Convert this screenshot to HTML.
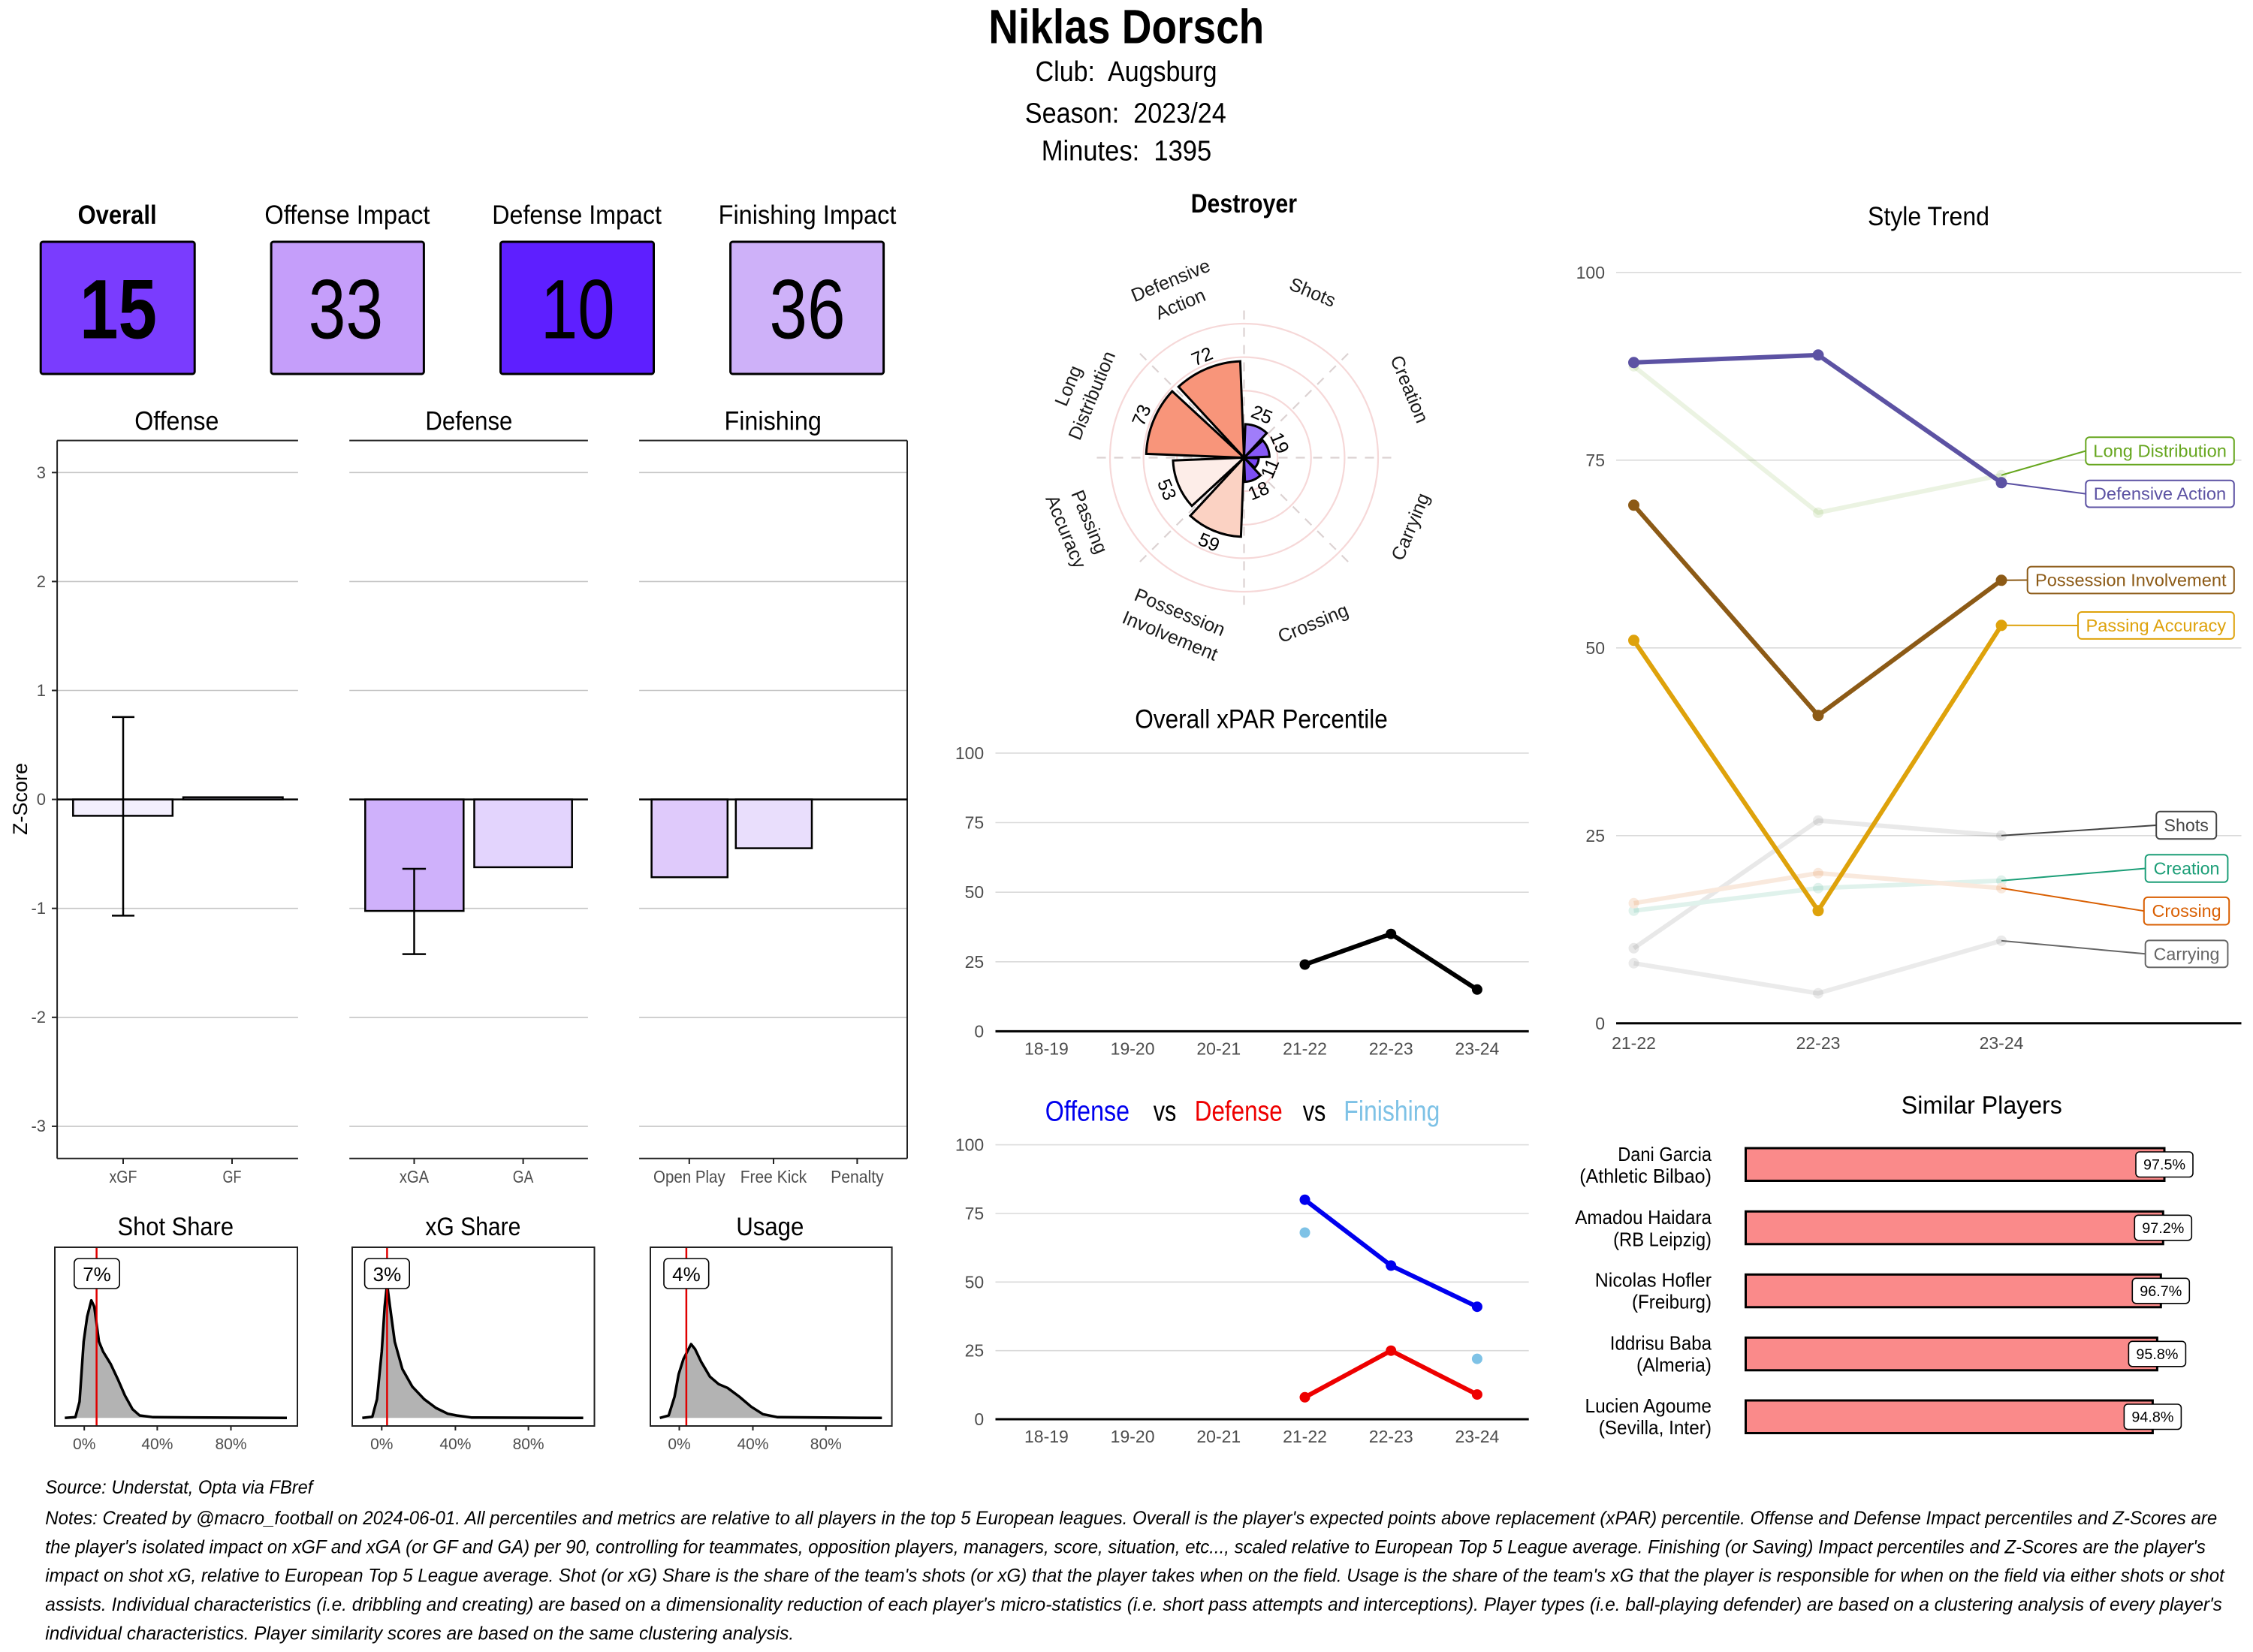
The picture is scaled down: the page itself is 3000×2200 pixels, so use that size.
<!DOCTYPE html>
<html><head><meta charset="utf-8"><style>
html,body{margin:0;padding:0;background:#fff;}
svg{display:block;}
text{font-family:"Liberation Sans",Arial,sans-serif;}
.tk{font-size:23px;fill:#4d4d4d;}
.ct{font-size:25px;fill:#1a1a1a;}
</style></head><body>
<svg width="3000" height="2200" viewBox="0 0 3000 2200" xmlns="http://www.w3.org/2000/svg">
<rect width="3000" height="2200" fill="#fff"/>

<!-- Header -->
<text x="1316.3" y="57.4" font-size="64" font-weight="bold" textLength="367" lengthAdjust="spacingAndGlyphs">Niklas Dorsch</text>
<text x="1378.6" y="108" font-size="38" textLength="242" lengthAdjust="spacingAndGlyphs" style="white-space:pre">Club:  Augsburg</text>
<text x="1364.8" y="163.6" font-size="38" textLength="268" lengthAdjust="spacingAndGlyphs" style="white-space:pre">Season:  2023/24</text>
<text x="1386.7" y="213.5" font-size="38" textLength="226.5" lengthAdjust="spacingAndGlyphs" style="white-space:pre">Minutes:  1395</text>

<!-- Score boxes -->
<text x="103.6" y="298" font-size="35" font-weight="bold" textLength="105" lengthAdjust="spacingAndGlyphs">Overall</text>
<text x="352.4" y="298" font-size="35" textLength="220" lengthAdjust="spacingAndGlyphs">Offense Impact</text>
<text x="655.3" y="298" font-size="35" textLength="225.6" lengthAdjust="spacingAndGlyphs">Defense Impact</text>
<text x="956.6" y="298" font-size="35" textLength="236.8" lengthAdjust="spacingAndGlyphs">Finishing Impact</text>
<rect x="54.2" y="322" width="205" height="176" rx="3" fill="#7a3cfe" stroke="#000" stroke-width="3"/>
<rect x="361.1" y="322" width="203.3" height="176" rx="3" fill="#c59efa" stroke="#000" stroke-width="3"/>
<rect x="666.5" y="322" width="204" height="176" rx="3" fill="#5e1fff" stroke="#000" stroke-width="3"/>
<rect x="972.6" y="322" width="204" height="176" rx="3" fill="#ceb1f9" stroke="#000" stroke-width="3"/>
<text x="106" y="450.7" font-size="112" font-weight="bold" textLength="103" lengthAdjust="spacingAndGlyphs">15</text>
<text x="410.6" y="450.7" font-size="112" textLength="99.6" lengthAdjust="spacingAndGlyphs">33</text>
<text x="719.9" y="450.7" font-size="112" textLength="98.8" lengthAdjust="spacingAndGlyphs">10</text>
<text x="1024.4" y="450.7" font-size="112" textLength="101.2" lengthAdjust="spacingAndGlyphs">36</text>

<!-- Z-score panels -->
<text x="179.2" y="572.6" font-size="35" textLength="112.2" lengthAdjust="spacingAndGlyphs">Offense</text>
<text x="566.4" y="572.6" font-size="35" textLength="116" lengthAdjust="spacingAndGlyphs">Defense</text>
<text x="964.5" y="572.6" font-size="35" textLength="129.4" lengthAdjust="spacingAndGlyphs">Finishing</text>
<g stroke="#c4c4c4" stroke-width="1.6">
<line x1="76.1" x2="396.9" y1="629.3" y2="629.3"/><line x1="76.1" x2="396.9" y1="774.4" y2="774.4"/><line x1="76.1" x2="396.9" y1="919.5" y2="919.5"/><line x1="76.1" x2="396.9" y1="1209.7" y2="1209.7"/><line x1="76.1" x2="396.9" y1="1354.8" y2="1354.8"/><line x1="76.1" x2="396.9" y1="1499.9" y2="1499.9"/>
<line x1="465.2" x2="782.9" y1="629.3" y2="629.3"/><line x1="465.2" x2="782.9" y1="774.4" y2="774.4"/><line x1="465.2" x2="782.9" y1="919.5" y2="919.5"/><line x1="465.2" x2="782.9" y1="1209.7" y2="1209.7"/><line x1="465.2" x2="782.9" y1="1354.8" y2="1354.8"/><line x1="465.2" x2="782.9" y1="1499.9" y2="1499.9"/>
<line x1="851.1" x2="1208" y1="629.3" y2="629.3"/><line x1="851.1" x2="1208" y1="774.4" y2="774.4"/><line x1="851.1" x2="1208" y1="919.5" y2="919.5"/><line x1="851.1" x2="1208" y1="1209.7" y2="1209.7"/><line x1="851.1" x2="1208" y1="1354.8" y2="1354.8"/><line x1="851.1" x2="1208" y1="1499.9" y2="1499.9"/>
</g>
<g stroke="#222" stroke-width="2">
<line x1="76.1" x2="396.9" y1="586.6" y2="586.6"/><line x1="76.1" x2="396.9" y1="1542.8" y2="1542.8"/><line x1="76.1" x2="76.1" y1="586.6" y2="1542.8"/>
<line x1="465.2" x2="782.9" y1="586.6" y2="586.6"/><line x1="465.2" x2="782.9" y1="1542.8" y2="1542.8"/>
<line x1="851.1" x2="1208" y1="586.6" y2="586.6"/><line x1="851.1" x2="1208" y1="1542.8" y2="1542.8"/><line x1="1208" x2="1208" y1="586.6" y2="1542.8"/>
<line x1="69" x2="76" y1="629.3" y2="629.3"/><line x1="69" x2="76" y1="774.4" y2="774.4"/><line x1="69" x2="76" y1="919.5" y2="919.5"/><line x1="69" x2="76" y1="1064.6" y2="1064.6"/><line x1="69" x2="76" y1="1209.7" y2="1209.7"/><line x1="69" x2="76" y1="1354.8" y2="1354.8"/><line x1="69" x2="76" y1="1499.9" y2="1499.9"/>
<line x1="164" x2="164" y1="1542.8" y2="1550"/><line x1="309" x2="309" y1="1542.8" y2="1550"/><line x1="551.5" x2="551.5" y1="1542.8" y2="1550"/><line x1="696.6" x2="696.6" y1="1542.8" y2="1550"/><line x1="917.8" x2="917.8" y1="1542.8" y2="1550"/><line x1="1030" x2="1030" y1="1542.8" y2="1550"/><line x1="1141.4" x2="1141.4" y1="1542.8" y2="1550"/>
</g>
<g font-size="22" fill="#4d4d4d" text-anchor="end">
<text x="61" y="637">3</text><text x="61" y="782">2</text><text x="61" y="927">1</text><text x="61" y="1072">0</text><text x="61" y="1217">-1</text><text x="61" y="1362">-2</text><text x="61" y="1507">-3</text>
</g>
<text transform="translate(36,1064) rotate(-90)" font-size="27" text-anchor="middle">Z-Score</text>

<g stroke="#000" stroke-width="2.5">
<rect x="97.3" y="1064.6" width="132.5" height="21.8" fill="#f3effd"/>
<rect x="244" y="1061.7" width="132.5" height="2.9" fill="#e6dcfb"/>
<rect x="486.3" y="1064.6" width="131" height="148.5" fill="#cfb1fb"/>
<rect x="631.5" y="1064.6" width="130.2" height="90.3" fill="#e3d4fd"/>
<rect x="867.6" y="1064.6" width="101.2" height="103.6" fill="#dfcafb"/>
<rect x="979.8" y="1064.6" width="101.2" height="65" fill="#e9defc"/>
<line x1="76.1" x2="396.9" y1="1064.6" y2="1064.6"/>
<line x1="465.2" x2="782.9" y1="1064.6" y2="1064.6"/>
<line x1="851.1" x2="1208" y1="1064.6" y2="1064.6"/>
<line x1="164" x2="164" y1="954.9" y2="1219.4"/><line x1="149" x2="179" y1="954.9" y2="954.9"/><line x1="149" x2="179" y1="1219.4" y2="1219.4"/>
<line x1="551.5" x2="551.5" y1="1157" y2="1270.6"/><line x1="535.8" x2="567.1" y1="1157" y2="1157"/><line x1="535.8" x2="567.1" y1="1270.6" y2="1270.6"/>
</g>
<g font-size="23" fill="#4d4d4d">
<text x="145.5" y="1575" textLength="37" lengthAdjust="spacingAndGlyphs">xGF</text>
<text x="296.5" y="1575" textLength="25" lengthAdjust="spacingAndGlyphs">GF</text>
<text x="531.9" y="1575" textLength="39.2" lengthAdjust="spacingAndGlyphs">xGA</text>
<text x="682.8" y="1575" textLength="27.5" lengthAdjust="spacingAndGlyphs">GA</text>
<text x="870" y="1575" textLength="95.7" lengthAdjust="spacingAndGlyphs">Open Play</text>
<text x="985.7" y="1575" textLength="88.6" lengthAdjust="spacingAndGlyphs">Free Kick</text>
<text x="1106.1" y="1575" textLength="70.6" lengthAdjust="spacingAndGlyphs">Penalty</text>
</g>

<!-- Density panels -->
<text x="156.5" y="1645" font-size="34" textLength="154.5" lengthAdjust="spacingAndGlyphs">Shot Share</text>
<text x="566.4" y="1645" font-size="34" textLength="127" lengthAdjust="spacingAndGlyphs">xG Share</text>
<text x="980.2" y="1645" font-size="34" textLength="90.2" lengthAdjust="spacingAndGlyphs">Usage</text>

<polygon fill="#b3b3b3" points="86.3,1888.3 100.4,1887.3 105.9,1866.7 111.4,1786.7 116.1,1753.3 121.6,1731.7 125.5,1740 131.8,1786.7 137.3,1800 147.5,1816.7 156.9,1836.7 166.3,1858.3 176.5,1876.7 185.9,1885 204,1887.3 382,1888.3"/>
<polyline fill="none" stroke="#000" stroke-width="3.5" stroke-linejoin="round" points="86.3,1888.3 100.4,1887.3 105.9,1866.7 111.4,1786.7 116.1,1753.3 121.6,1731.7 125.5,1740 131.8,1786.7 137.3,1800 147.5,1816.7 156.9,1836.7 166.3,1858.3 176.5,1876.7 185.9,1885 204,1887.3 382,1888.3"/>
<polygon fill="#b3b3b3" points="482.4,1888.3 495.8,1886.7 502,1863.3 508.3,1800 512.2,1740 515.4,1710 519.3,1740 525.6,1786.7 535.8,1823.3 549.1,1846.7 564.8,1863.3 580.5,1875 596.2,1882.7 607.9,1885 627.6,1887.7 776.6,1888.3"/>
<polyline fill="none" stroke="#000" stroke-width="3.5" stroke-linejoin="round" points="482.4,1888.3 495.8,1886.7 502,1863.3 508.3,1800 512.2,1740 515.4,1710 519.3,1740 525.6,1786.7 535.8,1823.3 549.1,1846.7 564.8,1863.3 580.5,1875 596.2,1882.7 607.9,1885 627.6,1887.7 776.6,1888.3"/>
<polygon fill="#b3b3b3" points="878.6,1888.3 890.4,1885 898.2,1860 903.7,1830 910,1810 920.2,1790 925.6,1796.7 933.5,1813.3 945.3,1833.3 957,1843.3 968.8,1848.3 984.5,1860 1000.2,1873.3 1015.9,1883.3 1035.5,1887.3 1174.3,1888.3"/>
<polyline fill="none" stroke="#000" stroke-width="3.5" stroke-linejoin="round" points="878.6,1888.3 890.4,1885 898.2,1860 903.7,1830 910,1810 920.2,1790 925.6,1796.7 933.5,1813.3 945.3,1833.3 957,1843.3 968.8,1848.3 984.5,1860 1000.2,1873.3 1015.9,1883.3 1035.5,1887.3 1174.3,1888.3"/>
<g stroke="#e00000" stroke-width="2.5">
<line x1="128.6" x2="128.6" y1="1661" y2="1899"/><line x1="515.4" x2="515.4" y1="1661" y2="1899"/><line x1="913.9" x2="913.9" y1="1661" y2="1899"/>
</g>
<g fill="none" stroke="#222" stroke-width="2">
<rect x="73" y="1661" width="323" height="238"/><rect x="469" y="1661" width="322.5" height="238"/><rect x="866" y="1661" width="321.6" height="238"/>
<line x1="112.2" x2="112.2" y1="1899" y2="1905"/><line x1="209.4" x2="209.4" y1="1899" y2="1905"/><line x1="307.5" x2="307.5" y1="1899" y2="1905"/>
<line x1="508.3" x2="508.3" y1="1899" y2="1905"/><line x1="606.4" x2="606.4" y1="1899" y2="1905"/><line x1="703.6" x2="703.6" y1="1899" y2="1905"/>
<line x1="904.5" x2="904.5" y1="1899" y2="1905"/><line x1="1002.5" x2="1002.5" y1="1899" y2="1905"/><line x1="1099.8" x2="1099.8" y1="1899" y2="1905"/>
</g>
<g stroke="#000" stroke-width="1.6" fill="#fff">
<rect x="98.8" y="1676" width="60.4" height="40" rx="6"/><rect x="485.6" y="1676" width="59.6" height="40" rx="6"/><rect x="884" y="1676" width="59.7" height="40" rx="6"/>
</g>
<g font-size="26" text-anchor="middle">
<text x="129" y="1706">7%</text><text x="515.4" y="1706">3%</text><text x="913.9" y="1706">4%</text>
</g>
<g font-size="21" fill="#4d4d4d" text-anchor="middle">
<text x="112.2" y="1930">0%</text><text x="209.4" y="1930">40%</text><text x="307.5" y="1930">80%</text>
<text x="508.3" y="1930">0%</text><text x="606.4" y="1930">40%</text><text x="703.6" y="1930">80%</text>
<text x="904.5" y="1930">0%</text><text x="1002.5" y="1930">40%</text><text x="1099.8" y="1930">80%</text>
</g>

<!-- Radar -->
<text x="1585.7" y="283" font-size="35" font-weight="bold" textLength="141.3" lengthAdjust="spacingAndGlyphs">Destroyer</text>
<g fill="none" stroke="#f6d8d8" stroke-width="2.2">
<circle cx="1656.5" cy="609.5" r="44.6"/><circle cx="1656.5" cy="609.5" r="89.25"/><circle cx="1656.5" cy="609.5" r="133.9"/><circle cx="1656.5" cy="609.5" r="178.5"/>
</g>
<g stroke="#dcd2d2" stroke-width="2.2" stroke-dasharray="12 11">
<line x1="1656.5" y1="609.5" x2="1656.5" y2="413"/>
<line x1="1656.5" y1="609.5" x2="1656.5" y2="806"/>
<line x1="1656.5" y1="609.5" x2="1460" y2="609.5"/>
<line x1="1656.5" y1="609.5" x2="1853" y2="609.5"/>
<line x1="1656.5" y1="609.5" x2="1796" y2="470"/>
<line x1="1656.5" y1="609.5" x2="1517" y2="470"/>
<line x1="1656.5" y1="609.5" x2="1796" y2="749"/>
<line x1="1656.5" y1="609.5" x2="1517" y2="749"/>
</g>
<g stroke="#000" stroke-width="3" stroke-linejoin="miter">
<path d="M1656.5,609.5 L1658.25,564.9 A44.63,44.63 0 0 1 1686.8,576.7 Z" fill="#a07dfa"/>
<path d="M1656.5,609.5 L1681.41,586.48 A33.92,33.92 0 0 1 1690.39,608.17 Z" fill="#8758f6"/>
<path d="M1656.5,609.5 L1676.12,610.27 A19.64,19.64 0 0 1 1670.92,622.83 Z" fill="#7845f3"/>
<path d="M1656.5,609.5 L1678.31,633.09 A32.13,32.13 0 0 1 1657.76,641.6 Z" fill="#7d4ff4"/>
<path d="M1656.5,609.5 L1652.37,714.74 A105.32,105.32 0 0 1 1585.01,686.84 Z" fill="#fbd2c3"/>
<path d="M1656.5,609.5 L1587.03,673.72 A94.61,94.61 0 0 1 1561.96,613.21 Z" fill="#fdede8"/>
<path d="M1656.5,609.5 L1526.29,604.38 A130.31,130.31 0 0 1 1560.81,521.05 Z" fill="#f8957a"/>
<path d="M1656.5,609.5 L1569.26,515.12 A128.52,128.52 0 0 1 1651.45,481.08 Z" fill="#f8957a"/>
</g>
<g font-size="25" text-anchor="middle" dominant-baseline="central">
<text transform="translate(1680.1,552.6) rotate(22.5)">25</text>
<text transform="translate(1703.5,590) rotate(67.5)">19</text>
<text transform="translate(1691.5,624) rotate(-67.5)">11</text>
<text transform="translate(1676,654) rotate(-22.5)">18</text>
<text transform="translate(1609.7,722.5) rotate(22.5)">59</text>
<text transform="translate(1553.4,652.2) rotate(67.5)">53</text>
<text transform="translate(1520.4,553.1) rotate(-67.5)">73</text>
<text transform="translate(1600.8,475.1) rotate(-22.5)">72</text>
</g>
<g class="ct" text-anchor="middle" dominant-baseline="central">
<text class="ct" transform="translate(1747.6,389.6) rotate(22.5)">Shots</text>
<text class="ct" transform="translate(1876.4,518.4) rotate(67.5)">Creation</text>
<text class="ct" transform="translate(1878.4,701.6) rotate(-67.5)">Carrying</text>
<text class="ct" transform="translate(1748.6,830.4) rotate(-22.5)">Crossing</text>
<g transform="translate(1564.4,831.4) rotate(22.5)"><text class="ct" y="-17">Possession</text><text class="ct" y="17">Involvement</text></g>
<g transform="translate(1434.6,701.6) rotate(67.5)"><text class="ct" y="-17">Passing</text><text class="ct" y="17">Accuracy</text></g>
<g transform="translate(1438.6,520.4) rotate(-67.5)"><text class="ct" y="-17">Long</text><text class="ct" y="17">Distribution</text></g>
<g transform="translate(1565.4,389.6) rotate(-22.5)"><text class="ct" y="-17">Defensive</text><text class="ct" y="17">Action</text></g>
</g>

<!-- Overall xPAR Percentile -->
<text x="1511.2" y="969.7" font-size="35" textLength="336.7" lengthAdjust="spacingAndGlyphs">Overall xPAR Percentile</text>
<g stroke="#dadada" stroke-width="1.6">
<line x1="1325.5" x2="2035.7" y1="1002.9" y2="1002.9"/><line x1="1325.5" x2="2035.7" y1="1095.5" y2="1095.5"/><line x1="1325.5" x2="2035.7" y1="1188.2" y2="1188.2"/><line x1="1325.5" x2="2035.7" y1="1280.8" y2="1280.8"/>
</g>
<line x1="1325.5" x2="2035.7" y1="1373.4" y2="1373.4" stroke="#000" stroke-width="3"/>
<g class="tk" text-anchor="end">
<text class="tk" x="1310.2" y="1011">100</text><text class="tk" x="1310.2" y="1103.5">75</text><text class="tk" x="1310.2" y="1196">50</text><text class="tk" x="1310.2" y="1289">25</text><text class="tk" x="1310.2" y="1381.5">0</text>
</g>
<g class="tk" text-anchor="middle">
<text class="tk" x="1393.4" y="1404.5">18-19</text><text class="tk" x="1508.1" y="1404.5">19-20</text><text class="tk" x="1622.8" y="1404.5">20-21</text><text class="tk" x="1737.5" y="1404.5">21-22</text><text class="tk" x="1852.2" y="1404.5">22-23</text><text class="tk" x="1966.9" y="1404.5">23-24</text>
</g>
<polyline points="1737.5,1284.5 1852.2,1243.7 1966.9,1317.8" fill="none" stroke="#000" stroke-width="6" stroke-linejoin="round"/>
<g fill="#000"><circle cx="1737.5" cy="1284.5" r="7"/><circle cx="1852.2" cy="1243.7" r="7"/><circle cx="1966.9" cy="1317.8" r="7"/></g>

<!-- Offense vs Defense vs Finishing -->
<text x="1391.8" y="1492.7" font-size="38" fill="#0000ee" textLength="112.2" lengthAdjust="spacingAndGlyphs">Offense</text>
<text x="1535.7" y="1492.7" font-size="38" fill="#000" textLength="30.6" lengthAdjust="spacingAndGlyphs">vs</text>
<text x="1590.8" y="1492.7" font-size="38" fill="#ee0000" textLength="116.9" lengthAdjust="spacingAndGlyphs">Defense</text>
<text x="1734.7" y="1492.7" font-size="38" fill="#000" textLength="30.6" lengthAdjust="spacingAndGlyphs">vs</text>
<text x="1789.3" y="1492.7" font-size="38" fill="#7ec2e6" textLength="128" lengthAdjust="spacingAndGlyphs">Finishing</text>
<g stroke="#dadada" stroke-width="1.6">
<line x1="1325.5" x2="2035.7" y1="1524.6" y2="1524.6"/><line x1="1325.5" x2="2035.7" y1="1616" y2="1616"/><line x1="1325.5" x2="2035.7" y1="1707.3" y2="1707.3"/><line x1="1325.5" x2="2035.7" y1="1798.7" y2="1798.7"/>
</g>
<line x1="1325.5" x2="2035.7" y1="1890" y2="1890" stroke="#000" stroke-width="3"/>
<g class="tk" text-anchor="end">
<text class="tk" x="1310.2" y="1532.6">100</text><text class="tk" x="1310.2" y="1624">75</text><text class="tk" x="1310.2" y="1715.3">50</text><text class="tk" x="1310.2" y="1806.7">25</text><text class="tk" x="1310.2" y="1898">0</text>
</g>
<g class="tk" text-anchor="middle">
<text class="tk" x="1393.4" y="1921">18-19</text><text class="tk" x="1508.1" y="1921">19-20</text><text class="tk" x="1622.8" y="1921">20-21</text><text class="tk" x="1737.5" y="1921">21-22</text><text class="tk" x="1852.2" y="1921">22-23</text><text class="tk" x="1966.9" y="1921">23-24</text>
</g>
<polyline points="1737.5,1597.7 1852.2,1685.4 1966.9,1740.2" fill="none" stroke="#0000ee" stroke-width="6" stroke-linejoin="round"/>
<g fill="#0000ee"><circle cx="1737.5" cy="1597.7" r="7"/><circle cx="1852.2" cy="1685.4" r="7"/><circle cx="1966.9" cy="1740.2" r="7"/></g>
<polyline points="1737.5,1860.8 1852.2,1798.7 1966.9,1857.1" fill="none" stroke="#ee0000" stroke-width="6" stroke-linejoin="round"/>
<g fill="#ee0000"><circle cx="1737.5" cy="1860.8" r="7"/><circle cx="1852.2" cy="1798.7" r="7"/><circle cx="1966.9" cy="1857.1" r="7"/></g>
<g fill="#7ec2e6"><circle cx="1737.5" cy="1641.5" r="7"/><circle cx="1966.9" cy="1809.6" r="7"/></g>

<!-- Style Trend -->
<text x="2487" y="300" font-size="35" textLength="162" lengthAdjust="spacingAndGlyphs">Style Trend</text>
<g stroke="#dadada" stroke-width="1.6">
<line x1="2152" x2="2984.5" y1="362.8" y2="362.8"/><line x1="2152" x2="2984.5" y1="612.8" y2="612.8"/><line x1="2152" x2="2984.5" y1="862.8" y2="862.8"/><line x1="2152" x2="2984.5" y1="1112.8" y2="1112.8"/>
</g>
<line x1="2152" x2="2984.5" y1="1362.8" y2="1362.8" stroke="#000" stroke-width="3"/>
<g class="tk" text-anchor="end">
<text class="tk" x="2137" y="371">100</text><text class="tk" x="2137" y="621">75</text><text class="tk" x="2137" y="871">50</text><text class="tk" x="2137" y="1121">25</text><text class="tk" x="2137" y="1371">0</text>
</g>
<g class="tk" text-anchor="middle">
<text class="tk" x="2175.5" y="1397">21-22</text><text class="tk" x="2421" y="1397">22-23</text><text class="tk" x="2665" y="1397">23-24</text>
</g>
<!-- faded series -->
<g opacity="0.13" fill="none" stroke-width="6" stroke-linejoin="round">
<polyline points="2175.5,487.8 2421,682.8 2665,632.8" stroke="#66a61e"/>
<polyline points="2175.5,1262.8 2421,1092.8 2665,1112.8" stroke="#555"/>
<polyline points="2175.5,1212.8 2421,1182.8 2665,1172.8" stroke="#1b9e77"/>
<polyline points="2175.5,1202.8 2421,1162.8 2665,1182.8" stroke="#d95f02"/>
<polyline points="2175.5,1282.8 2421,1322.8 2665,1252.8" stroke="#666"/>
</g>
<g opacity="0.13">
<g fill="#66a61e"><circle cx="2175.5" cy="487.8" r="7"/><circle cx="2421" cy="682.8" r="7"/><circle cx="2665" cy="632.8" r="7"/></g>
<g fill="#555"><circle cx="2175.5" cy="1262.8" r="7"/><circle cx="2421" cy="1092.8" r="7"/><circle cx="2665" cy="1112.8" r="7"/></g>
<g fill="#1b9e77"><circle cx="2175.5" cy="1212.8" r="7"/><circle cx="2421" cy="1182.8" r="7"/><circle cx="2665" cy="1172.8" r="7"/></g>
<g fill="#d95f02"><circle cx="2175.5" cy="1202.8" r="7"/><circle cx="2421" cy="1162.8" r="7"/><circle cx="2665" cy="1182.8" r="7"/></g>
<g fill="#666"><circle cx="2175.5" cy="1282.8" r="7"/><circle cx="2421" cy="1322.8" r="7"/><circle cx="2665" cy="1252.8" r="7"/></g>
</g>
<!-- main series -->
<polyline points="2175.5,482.8 2421,472.8 2665,642.8" fill="none" stroke="#5c52a3" stroke-width="6" stroke-linejoin="round"/>
<g fill="#5c52a3"><circle cx="2175.5" cy="482.8" r="7.5"/><circle cx="2421" cy="472.8" r="7.5"/><circle cx="2665" cy="642.8" r="7.5"/></g>
<polyline points="2175.5,672.8 2421,952.8 2665,772.8" fill="none" stroke="#8c5a16" stroke-width="6" stroke-linejoin="round"/>
<g fill="#8c5a16"><circle cx="2175.5" cy="672.8" r="7.5"/><circle cx="2421" cy="952.8" r="7.5"/><circle cx="2665" cy="772.8" r="7.5"/></g>
<polyline points="2175.5,852.8 2421,1212.8 2665,832.8" fill="none" stroke="#dea20b" stroke-width="6" stroke-linejoin="round"/>
<g fill="#dea20b"><circle cx="2175.5" cy="852.8" r="7.5"/><circle cx="2421" cy="1212.8" r="7.5"/><circle cx="2665" cy="832.8" r="7.5"/></g>
<!-- leader lines -->
<g stroke-width="2" fill="none">
<line x1="2665" y1="632.8" x2="2777.3" y2="600.5" stroke="#66a61e"/>
<line x1="2665" y1="642.8" x2="2777.3" y2="657.6" stroke="#5c52a3"/>
<line x1="2665" y1="772.8" x2="2699.7" y2="772.5" stroke="#8c5a16"/>
<line x1="2665" y1="832.8" x2="2767" y2="833" stroke="#dea20b"/>
<line x1="2665" y1="1112.8" x2="2871.2" y2="1099" stroke="#444"/>
<line x1="2665" y1="1172.8" x2="2856.7" y2="1156.5" stroke="#1b9e77"/>
<line x1="2665" y1="1182.8" x2="2854.8" y2="1213.2" stroke="#d95f02"/>
<line x1="2665" y1="1252.8" x2="2856.7" y2="1270.3" stroke="#666"/>
</g>
<g fill="#fff" stroke-width="2">
<rect x="2777.3" y="582.2" width="197.5" height="36.6" rx="5" stroke="#66a61e"/>
<rect x="2777.3" y="639.7" width="197.5" height="35.8" rx="5" stroke="#5c52a3"/>
<rect x="2699.7" y="754.6" width="275.1" height="35.8" rx="5" stroke="#8c5a16"/>
<rect x="2767" y="815" width="207.8" height="35.9" rx="5" stroke="#dea20b"/>
<rect x="2871.2" y="1080.7" width="80" height="36.6" rx="5" stroke="#444"/>
<rect x="2856.7" y="1138.2" width="109.7" height="36.6" rx="5" stroke="#1b9e77"/>
<rect x="2854.8" y="1194.9" width="113.4" height="36.6" rx="5" stroke="#d95f02"/>
<rect x="2856.7" y="1252.4" width="109.7" height="35.8" rx="5" stroke="#666"/>
</g>
<g font-size="23">
<text x="2787.3" y="608.5" fill="#66a61e" textLength="177.6" lengthAdjust="spacingAndGlyphs">Long Distribution</text>
<text x="2787.8" y="665.6" fill="#5c52a3" textLength="176.4" lengthAdjust="spacingAndGlyphs">Defensive Action</text>
<text x="2710" y="780.5" fill="#8c5a16" textLength="254.5" lengthAdjust="spacingAndGlyphs">Possession Involvement</text>
<text x="2777.5" y="841" fill="#dea20b" textLength="186.7" lengthAdjust="spacingAndGlyphs">Passing Accuracy</text>
<text x="2881.5" y="1107" fill="#444" textLength="59.4" lengthAdjust="spacingAndGlyphs">Shots</text>
<text x="2867.6" y="1164.5" fill="#1b9e77" textLength="87.9" lengthAdjust="spacingAndGlyphs">Creation</text>
<text x="2865.5" y="1221.2" fill="#d95f02" textLength="92.1" lengthAdjust="spacingAndGlyphs">Crossing</text>
<text x="2867.6" y="1278.3" fill="#666" textLength="87.9" lengthAdjust="spacingAndGlyphs">Carrying</text>
</g>

<!-- Similar Players -->
<text x="2531.8" y="1483" font-size="33" textLength="214" lengthAdjust="spacingAndGlyphs">Similar Players</text>
<g fill="#fa8a8a" stroke="#000" stroke-width="3">
<rect x="2324.5" y="1529" width="557.5" height="43.5"/>
<rect x="2324.5" y="1613.3" width="555.8" height="43.5"/>
<rect x="2324.5" y="1697.3" width="552.8" height="43.5"/>
<rect x="2324.5" y="1781.3" width="547.9" height="43.5"/>
<rect x="2324.5" y="1865" width="541.9" height="43.5"/>
</g>
<g fill="#fff" stroke="#000" stroke-width="1.6">
<rect x="2844" y="1534" width="76" height="33.5" rx="5"/>
<rect x="2842.3" y="1618.3" width="76" height="33.5" rx="5"/>
<rect x="2839.3" y="1702.3" width="76" height="33.5" rx="5"/>
<rect x="2834.4" y="1786.3" width="76" height="33.5" rx="5"/>
<rect x="2828.4" y="1870" width="76" height="33.5" rx="5"/>
</g>
<g font-size="19">
<text x="2854" y="1557.5" textLength="56" lengthAdjust="spacingAndGlyphs">97.5%</text>
<text x="2852.3" y="1641.8" textLength="56" lengthAdjust="spacingAndGlyphs">97.2%</text>
<text x="2849.3" y="1725.8" textLength="56" lengthAdjust="spacingAndGlyphs">96.7%</text>
<text x="2844.4" y="1809.8" textLength="56" lengthAdjust="spacingAndGlyphs">95.8%</text>
<text x="2838.4" y="1893.5" textLength="56" lengthAdjust="spacingAndGlyphs">94.8%</text>
</g>
<g font-size="26">
<text x="2154.2" y="1546" textLength="124.8" lengthAdjust="spacingAndGlyphs">Dani Garcia</text>
<text x="2103.2" y="1575" textLength="175.8" lengthAdjust="spacingAndGlyphs">(Athletic Bilbao)</text>
<text x="2097.2" y="1630" textLength="181.8" lengthAdjust="spacingAndGlyphs">Amadou Haidara</text>
<text x="2148.1" y="1659.3" textLength="130.9" lengthAdjust="spacingAndGlyphs">(RB Leipzig)</text>
<text x="2123.8" y="1713.3" textLength="155.2" lengthAdjust="spacingAndGlyphs">Nicolas Hofler</text>
<text x="2173" y="1742.7" textLength="106" lengthAdjust="spacingAndGlyphs">(Freiburg)</text>
<text x="2143.8" y="1797.3" textLength="135.2" lengthAdjust="spacingAndGlyphs">Iddrisu Baba</text>
<text x="2179" y="1826.7" textLength="100" lengthAdjust="spacingAndGlyphs">(Almeria)</text>
<text x="2110.5" y="1881" textLength="168.5" lengthAdjust="spacingAndGlyphs">Lucien Agoume</text>
<text x="2128.7" y="1910" textLength="150.3" lengthAdjust="spacingAndGlyphs">(Sevilla, Inter)</text>
</g>

<!-- Notes -->
<g font-size="25" font-style="italic">
<text x="60.3" y="1989" textLength="356" lengthAdjust="spacingAndGlyphs">Source: Understat, Opta via FBref</text>
<text x="60.3" y="2030" textLength="2892" lengthAdjust="spacingAndGlyphs">Notes: Created by @macro_football on 2024-06-01. All percentiles and metrics are relative to all players in the top 5 European leagues. Overall is the player's expected points above replacement (xPAR) percentile. Offense and Defense Impact percentiles and Z-Scores are</text>
<text x="60.3" y="2068.3" textLength="2876.6" lengthAdjust="spacingAndGlyphs">the player's isolated impact on xGF and xGA (or GF and GA) per 90, controlling for teammates, opposition players, managers, score, situation, etc..., scaled relative to European Top 5 League average. Finishing (or Saving) Impact percentiles and Z-Scores are the player's</text>
<text x="60.3" y="2106.7" textLength="2901.5" lengthAdjust="spacingAndGlyphs">impact on shot xG, relative to European Top 5 League average. Shot (or xG) Share is the share of the team's shots (or xG) that the player takes when on the field. Usage is the share of the team's xG that the player is responsible for when on the field via either shots or shot</text>
<text x="60.3" y="2145" textLength="2898.6" lengthAdjust="spacingAndGlyphs">assists. Individual characteristics (i.e. dribbling and creating) are based on a dimensionality reduction of each player's micro-statistics (i.e. short pass attempts and interceptions). Player types (i.e. ball-playing defender) are based on a clustering analysis of every player's</text>
<text x="60.3" y="2183.3" textLength="996.8" lengthAdjust="spacingAndGlyphs">individual characteristics. Player similarity scores are based on the same clustering analysis.</text>
</g>
</svg>
</body></html>
